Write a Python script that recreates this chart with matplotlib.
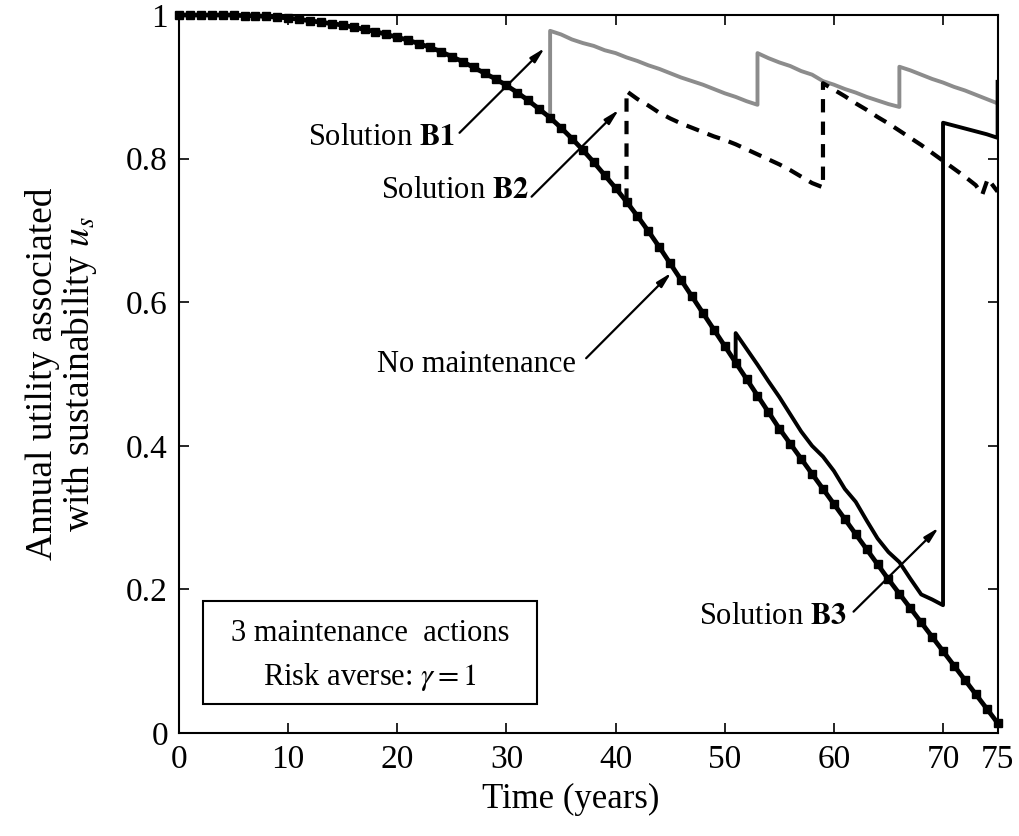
import numpy as np
import matplotlib
matplotlib.use('Agg')
import matplotlib.pyplot as plt
from matplotlib.patches import Rectangle

plt.rcParams['font.family'] = ['Liberation Serif', 'DejaVu Serif']
plt.rcParams['mathtext.fontset'] = 'stix'

# annual utility without maintenance, one value per year (t = 0..75)
years = np.arange(0, 76)
u_none = [1.000, 1.000, 1.000, 1.000, 1.000, 1.000, 0.999, 0.999, 0.998, 0.997,
          0.996, 0.994, 0.992, 0.990, 0.988, 0.986, 0.983, 0.980, 0.977, 0.973,
          0.969, 0.965, 0.960, 0.955, 0.949, 0.942, 0.935, 0.927, 0.919, 0.911,
          0.902, 0.892, 0.881, 0.869, 0.857, 0.843, 0.828, 0.812, 0.795, 0.777,
          0.759, 0.740, 0.720, 0.699, 0.677, 0.654, 0.631, 0.608, 0.585, 0.562,
          0.539, 0.516, 0.493, 0.470, 0.447, 0.424, 0.403, 0.382, 0.361, 0.340,
          0.319, 0.298, 0.277, 0.256, 0.235, 0.214, 0.194, 0.174, 0.154, 0.134,
          0.114, 0.094, 0.074, 0.054, 0.034, 0.014]

# solution B1: actions at years 34, 53, 66
t_b1 = [34, 34, 35, 36, 37, 38, 39, 40, 41, 42, 43, 44, 45, 46, 47, 48, 49, 50, 51, 52, 53,
        53, 54, 55, 56, 57, 58, 59, 60, 61, 62, 63, 64, 65, 66,
        66, 67, 68, 69, 70, 71, 72, 73, 74, 75]
u_b1 = [0.857, 0.978, 0.973, 0.966, 0.961, 0.957, 0.951, 0.947, 0.941, 0.936, 0.930, 0.925,
        0.919, 0.913, 0.908, 0.903, 0.897, 0.891, 0.886, 0.880, 0.875,
        0.947, 0.940, 0.934, 0.929, 0.922, 0.917, 0.908, 0.903, 0.897, 0.892, 0.886, 0.881,
        0.876, 0.872,
        0.928, 0.923, 0.917, 0.911, 0.906, 0.900, 0.895, 0.889, 0.883, 0.877]

# solution B2: actions at years 41, 59
t_b2 = [41, 41, 42, 43, 44, 45, 46, 47, 48, 49, 50, 51, 52, 53, 54, 55, 56, 57, 58, 59,
        59, 60, 61, 62, 63, 64, 65, 66, 67, 68, 69, 70, 71, 72, 73, 73.6, 74.1, 75]
u_b2 = [0.740, 0.894, 0.883, 0.874, 0.864, 0.856, 0.849, 0.843, 0.837, 0.831, 0.826, 0.820,
        0.813, 0.806, 0.799, 0.792, 0.784, 0.775, 0.766, 0.760,
        0.905, 0.896, 0.887, 0.877, 0.868, 0.858, 0.849, 0.839, 0.829, 0.819, 0.808, 0.797,
        0.786, 0.775, 0.763, 0.750, 0.772, 0.754]

# solution B3: actions at years 51, 70, 75
t_b3 = [51, 51, 52, 53, 54, 55, 56, 57, 58, 59, 60, 61, 62, 63, 64, 65, 66, 67, 68, 69, 70,
        70, 71, 72, 73, 74, 75, 75]
u_b3 = [0.516, 0.557, 0.535, 0.513, 0.490, 0.468, 0.444, 0.420, 0.400, 0.385, 0.365, 0.340,
        0.322, 0.296, 0.271, 0.252, 0.238, 0.215, 0.193, 0.186, 0.178,
        0.850, 0.846, 0.842, 0.838, 0.834, 0.829, 0.907]

xticks = [0, 10, 20, 30, 40, 50, 60, 70, 75]
yticks = [0, 0.2, 0.4, 0.6, 0.8, 1]
yticklabels = ['0', '0.2', '0.4', '0.6', '0.8', '1']

fig = plt.figure(figsize=(10.19, 8.36), dpi=100)
ax = fig.add_axes([0.1757, 0.1232, 0.8033, 0.8588])

ax.plot(t_b1, u_b1, color='#8c8c8c', lw=2.8, zorder=2)
ax.plot(t_b2, u_b2, color='k', lw=3.0, ls=(0, (3.2, 2.2)), zorder=3)
ax.plot(t_b3, u_b3, color='k', lw=2.8, zorder=3)
ax.plot(years, u_none, color='k', lw=3.4, marker='s', ms=5.5, zorder=4, clip_on=False)

# labels and arrows
arrow = dict(arrowstyle='-|>,head_width=0.22,head_length=0.9', color='k', lw=1.6,
             shrinkA=0, shrinkB=0)
fs = 22
ax.annotate('', xy=(33.5, 0.954), xytext=(25.7, 0.836), arrowprops=arrow)
ax.text(25.3, 0.829, r'Solution $\mathbf{B1}$', ha='right', va='center', fontsize=fs)
ax.annotate('', xy=(40.3, 0.868), xytext=(32.3, 0.747), arrowprops=arrow)
ax.text(32.1, 0.756, r'Solution $\mathbf{B2}$', ha='right', va='center', fontsize=fs)
ax.annotate('', xy=(45.1, 0.641), xytext=(37.3, 0.522), arrowprops=arrow)
ax.text(36.4, 0.513, 'No maintenance', ha='right', va='center', fontsize=fs)
ax.annotate('', xy=(69.6, 0.286), xytext=(61.8, 0.169), arrowprops=arrow)
ax.text(61.2, 0.162, r'Solution $\mathbf{B3}$', ha='right', va='center', fontsize=fs)

# info box
ax.add_patch(Rectangle((2.2, 0.04), 30.6, 0.144, fill=False, ec='k', lw=1.5, zorder=5))
ax.text(17.5, 0.139, '3 maintenance  actions', ha='center', va='center', fontsize=fs)
ax.text(17.5, 0.078, r'Risk averse: $\gamma = 1$', ha='center', va='center', fontsize=fs)

ax.set_xlim(0, 75)
ax.set_ylim(0, 1)
ax.set_xticks(xticks)
ax.set_yticks(yticks)
ax.set_yticklabels(yticklabels)
ax.tick_params(direction='in', length=7, width=1.2, labelsize=24, top=True, right=True, pad=8)
for s in ax.spines.values():
    s.set_linewidth(1.5)

ax.set_xlabel('Time (years)', fontsize=25)
ax.xaxis.set_label_coords(0.478, -0.07)
ax.set_ylabel('Annual utility associated\nwith sustainability $u_s$', fontsize=27,
              linespacing=1.0)
ax.yaxis.set_label_coords(-0.098, 0.5)

plt.savefig('out.png', dpi=100)
